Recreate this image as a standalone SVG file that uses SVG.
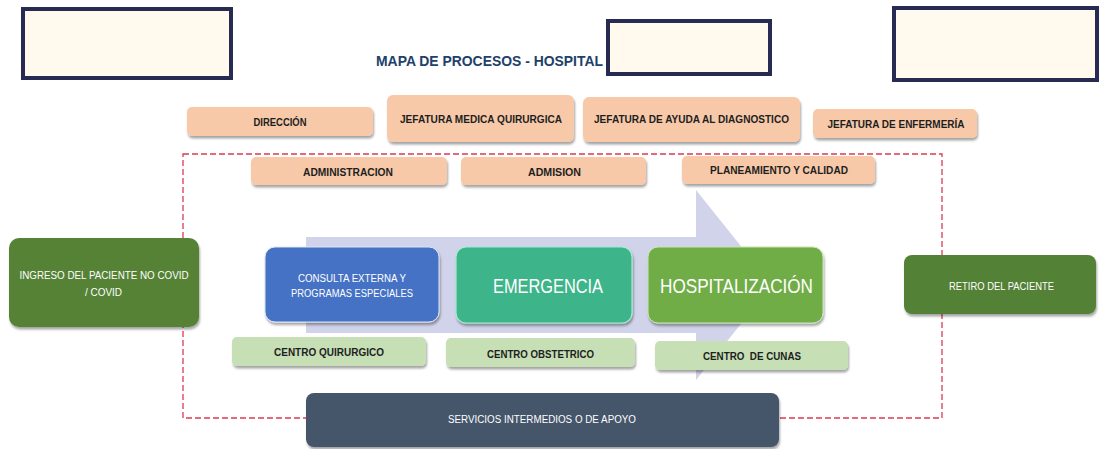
<svg xmlns="http://www.w3.org/2000/svg" width="1102" height="449" viewBox="0 0 1102 449">
  <defs>
    <filter id="sh" x="-10%" y="-20%" width="120%" height="160%">
      <feDropShadow dx="1" dy="2.5" stdDeviation="1.3" flood-color="#000" flood-opacity="0.35"/>
    </filter>
    <style>
      .blank { fill: #FFF9EE; stroke: #272B53; stroke-width: 4; }
      .org { fill: #F7C9A9; filter: url(#sh); }
      .lg { fill: #C6DFB5; filter: url(#sh); }
      .t { font-family: "Liberation Sans", Arial, sans-serif; }
      .ob { font-size: 10.5px; font-weight: bold; fill: #1E1E1E; text-anchor: middle; }
      .wt { font-size: 10px; fill: #FFFFFF; text-anchor: middle; }
      .big { font-size: 21px; fill: #FFFFFF; text-anchor: middle; }
      .title { font-size: 15.5px; font-weight: bold; fill: #21406A; }
    </style>
  </defs>
  <rect width="1102" height="449" fill="#FFFFFF"/>

  <!-- header blank boxes -->
  <g id="blank-left"><rect class="blank" x="23" y="9" width="208" height="69"/></g>
  <g id="title"><text class="t title" x="376" y="66" textLength="227" lengthAdjust="spacingAndGlyphs">MAPA DE PROCESOS - HOSPITAL</text></g>
  <g id="blank-center"><rect class="blank" x="608" y="21" width="162" height="53"/></g>
  <g id="blank-right"><rect class="blank" x="894" y="8" width="203" height="72"/></g>

  <!-- boundary -->
  <g id="boundary">
    <rect x="183" y="154" width="759" height="264" fill="none" stroke="#DC3A52" stroke-width="1.3" stroke-dasharray="6,3"/>
  </g>

  <!-- flow arrow -->
  <g id="connectors">
    <polygon points="306,237 696,237 696,190 772,285 696,380 696,333 306,333" fill="#D0D3E9"/>
  </g>

  <!-- strategic row 1 -->
  <g id="direccion">
    <rect class="org" x="187" y="107" width="186" height="29" rx="5"/>
    <text class="t ob" x="280" y="125.5" textLength="53" lengthAdjust="spacingAndGlyphs">DIRECCIÓN</text>
  </g>
  <g id="jefatura-medica">
    <rect class="org" x="387" y="95" width="187" height="47" rx="6"/>
    <text class="t ob" x="481" y="122.5" textLength="162" lengthAdjust="spacingAndGlyphs">JEFATURA MEDICA QUIRURGICA</text>
  </g>
  <g id="jefatura-ayuda">
    <rect class="org" x="583" y="97" width="217" height="45" rx="6"/>
    <text class="t ob" x="691.5" y="122.5" textLength="195" lengthAdjust="spacingAndGlyphs">JEFATURA DE AYUDA AL DIAGNOSTICO</text>
  </g>
  <g id="jefatura-enfermeria">
    <rect class="org" x="813" y="109" width="164" height="29" rx="5"/>
    <text class="t ob" x="896" y="127.5" textLength="137" lengthAdjust="spacingAndGlyphs">JEFATURA DE ENFERMERÍA</text>
  </g>

  <!-- strategic row 2 -->
  <g id="administracion">
    <rect class="org" x="251" y="157" width="196" height="28" rx="5"/>
    <text class="t ob" x="348" y="175.5" textLength="90" lengthAdjust="spacingAndGlyphs">ADMINISTRACION</text>
  </g>
  <g id="admision">
    <rect class="org" x="461" y="157" width="185" height="28" rx="5"/>
    <text class="t ob" x="554.5" y="175.5" textLength="53" lengthAdjust="spacingAndGlyphs">ADMISION</text>
  </g>
  <g id="planeamiento">
    <rect class="org" x="682" y="156" width="193" height="28" rx="5"/>
    <text class="t ob" x="779" y="173.5" textLength="138" lengthAdjust="spacingAndGlyphs">PLANEAMIENTO Y CALIDAD</text>
  </g>

  <!-- entry / exit -->
  <g id="ingreso">
    <rect x="9" y="238" width="190" height="89" rx="10" fill="#548235" filter="url(#sh)"/>
    <text class="t wt" x="104" y="278.5" textLength="169" lengthAdjust="spacingAndGlyphs">INGRESO DEL PACIENTE NO COVID</text>
    <text class="t wt" x="103.5" y="295.5" textLength="37" lengthAdjust="spacingAndGlyphs">/ COVID</text>
  </g>
  <g id="retiro">
    <rect x="904" y="255" width="192" height="59" rx="8" fill="#538135" filter="url(#sh)"/>
    <text class="t wt" x="1001.5" y="289.5" textLength="105" lengthAdjust="spacingAndGlyphs">RETIRO DEL PACIENTE</text>
  </g>

  <!-- core processes -->
  <g id="consulta-externa">
    <rect x="265" y="247" width="174" height="75" rx="10" fill="#4472C4" stroke="#DCE6F5" stroke-width="1" filter="url(#sh)"/>
    <text class="t wt" x="352" y="281.5" textLength="108" lengthAdjust="spacingAndGlyphs">CONSULTA EXTERNA Y</text>
    <text class="t wt" x="352" y="296.5" textLength="122" lengthAdjust="spacingAndGlyphs">PROGRAMAS ESPECIALES</text>
  </g>
  <g id="emergencia">
    <rect x="456" y="247" width="176" height="76" rx="10" fill="#3DB48A" stroke="#A8EAD2" stroke-width="1.2" filter="url(#sh)"/>
    <text class="t big" x="548" y="292.5" textLength="110" lengthAdjust="spacingAndGlyphs">EMERGENCIA</text>
  </g>
  <g id="hospitalizacion">
    <rect x="648" y="247" width="175" height="76" rx="10" fill="#70AD47" stroke="#C9E4B6" stroke-width="1" filter="url(#sh)"/>
    <text class="t big" x="736.5" y="292.5" textLength="153" lengthAdjust="spacingAndGlyphs">HOSPITALIZACIÓN</text>
  </g>

  <!-- support centres -->
  <g id="centro-quirurgico">
    <rect class="lg" x="232" y="337" width="194" height="29" rx="5"/>
    <text class="t ob" x="329" y="355.5" textLength="110" lengthAdjust="spacingAndGlyphs">CENTRO QUIRURGICO</text>
  </g>
  <g id="centro-obstetrico">
    <rect class="lg" x="446" y="338" width="189" height="29" rx="5"/>
    <text class="t ob" x="540.5" y="357.5" textLength="107" lengthAdjust="spacingAndGlyphs">CENTRO OBSTETRICO</text>
  </g>
  <g id="centro-cunas">
    <rect class="lg" x="655" y="341" width="193" height="29" rx="5"/>
    <text class="t ob" x="752" y="359.5" textLength="98" lengthAdjust="spacingAndGlyphs" xml:space="preserve">CENTRO  DE CUNAS</text>
  </g>

  <!-- intermediate services -->
  <g id="servicios">
    <rect x="306" y="393" width="473" height="54" rx="8" fill="#44546A" filter="url(#sh)"/>
    <text class="t wt" x="542" y="422.5" textLength="188" lengthAdjust="spacingAndGlyphs">SERVICIOS INTERMEDIOS O DE APOYO</text>
  </g>
</svg>
